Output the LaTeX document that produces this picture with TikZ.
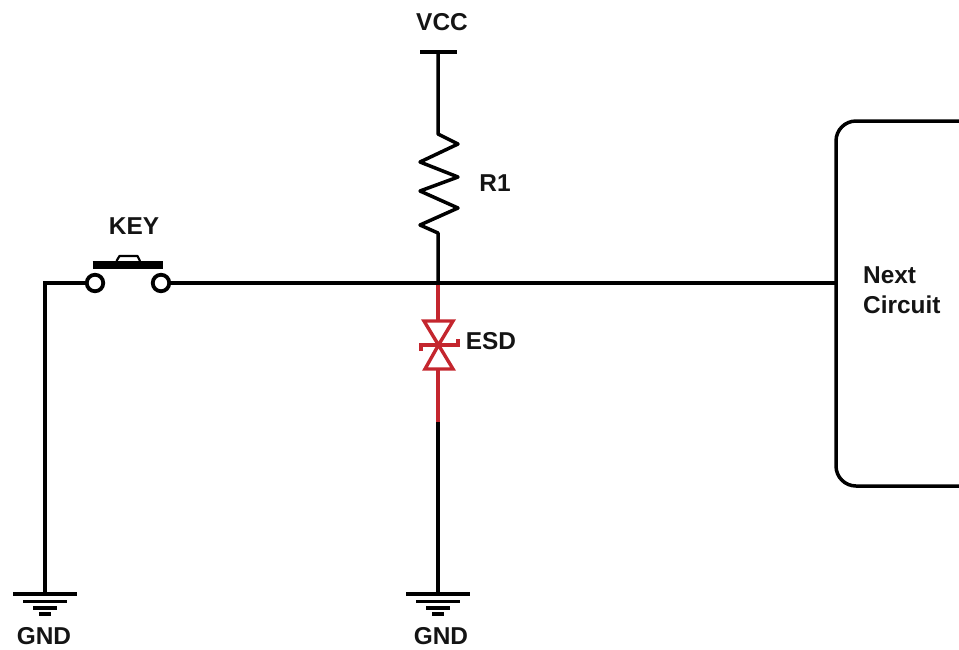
\documentclass[tikz,border=0pt]{standalone}
\usepackage{fontspec}
\setmainfont{Liberation Sans}
\definecolor{esdred}{RGB}{196,38,46}
\tikzset{
  wire/.style={line width=3.5pt,black,line join=miter},
  esdwire/.style={line width=3.4pt,esdred},
  lbl/.style={font=\fontsize{24.4}{28}\selectfont\bfseries,inner sep=0pt,text=black!92},
  gbar/.style={line width=3.8pt,black},
  pin/.style={circle,draw=black,line width=3.8pt,minimum size=16.5pt,inner sep=0pt},
}
\newcommand{\gndsym}[1]{%
  \draw[gbar] ($(#1)+(-32,0)$) -- ($(#1)+(32,0)$);
  \draw[gbar] ($(#1)+(-22,7.5)$) -- ($(#1)+(22,7.5)$);
  \draw[gbar] ($(#1)+(-12,14)$) -- ($(#1)+(12,14)$);
  \draw[gbar] ($(#1)+(-6,20)$) -- ($(#1)+(6,20)$);
}
\usetikzlibrary{calc}
\begin{document}
\begin{tikzpicture}[x=1pt,y=-1pt]
\useasboundingbox (0,0) rectangle (959,649);
% coordinates
\coordinate (vcc) at (438,52);
\coordinate (rbot) at (438,233);
\coordinate (junc) at (438,283);
\coordinate (esdtop) at (438,321);
\coordinate (esdbot) at (438,369);
\coordinate (esdend) at (438,422);
\coordinate (gndb) at (438,594);
\coordinate (gnda) at (45,594);
\coordinate (corner) at (45,283);
\node[pin] (pinl) at (95,283) {};
\node[pin] (pinr) at (161,283) {};
% next circuit box
\draw[wire,rounded corners=20pt] (975,121) -- (836,121) -- (836,486) -- (975,486);
\coordinate (boxin) at (836,283);
% wires
\draw[wire,line join=round] (vcc) -- (438,134) -- (458,144) -- (420,162) -- (458,177) -- (420,191) -- (458,208) -- (420,225) -- (rbot) -- (junc);
\draw[wire] (gnda) -- (corner) -- (pinl);
\draw[wire] (pinr) -- (boxin);
\draw[wire] (esdend) -- (gndb);
% VCC bar
\draw[wire] ($(vcc)+(-18,0)$) -- ($(vcc)+(19,0)$);
% key
\draw[line width=8.5pt] (92.5,265) -- (163,265);
\draw[line width=2.2pt,line join=round] (116.5,261) -- (119.5,256) -- (137.5,256) -- (140,261);
% ESD
\draw[esdwire] ($(junc)+(0,1.7)$) -- (esdtop);
\draw[esdwire] (esdbot) -- (esdend);
\draw[esdwire,line join=miter] (424,321) -- (453,321) -- (438.5,345) -- cycle;
\draw[esdwire,line join=miter] (425,369) -- (453,369) -- (438.5,345) -- cycle;
\draw[esdwire] (421,351) -- (421,345) -- (458,345) -- (458,339);
% grounds
\gndsym{gnda}
\gndsym{gndb}
% labels
\node[lbl] (lvcc) at (442,22) {VCC};
\node[lbl] (lr1) at (495,183) {R1};
\node[lbl] (lkey) at (134,226) {KEY};
\node[lbl] (lesd) at (491,341) {ESD};
\node[lbl] (lg1) at (44,636) {GND};
\node[lbl] (lg2) at (441,636.5) {GND};
\node[lbl,anchor=west] (ln1) at (863,275) {Next};
\node[lbl,anchor=west] (ln2) at (863,305) {Circuit};
\end{tikzpicture}
\end{document}
